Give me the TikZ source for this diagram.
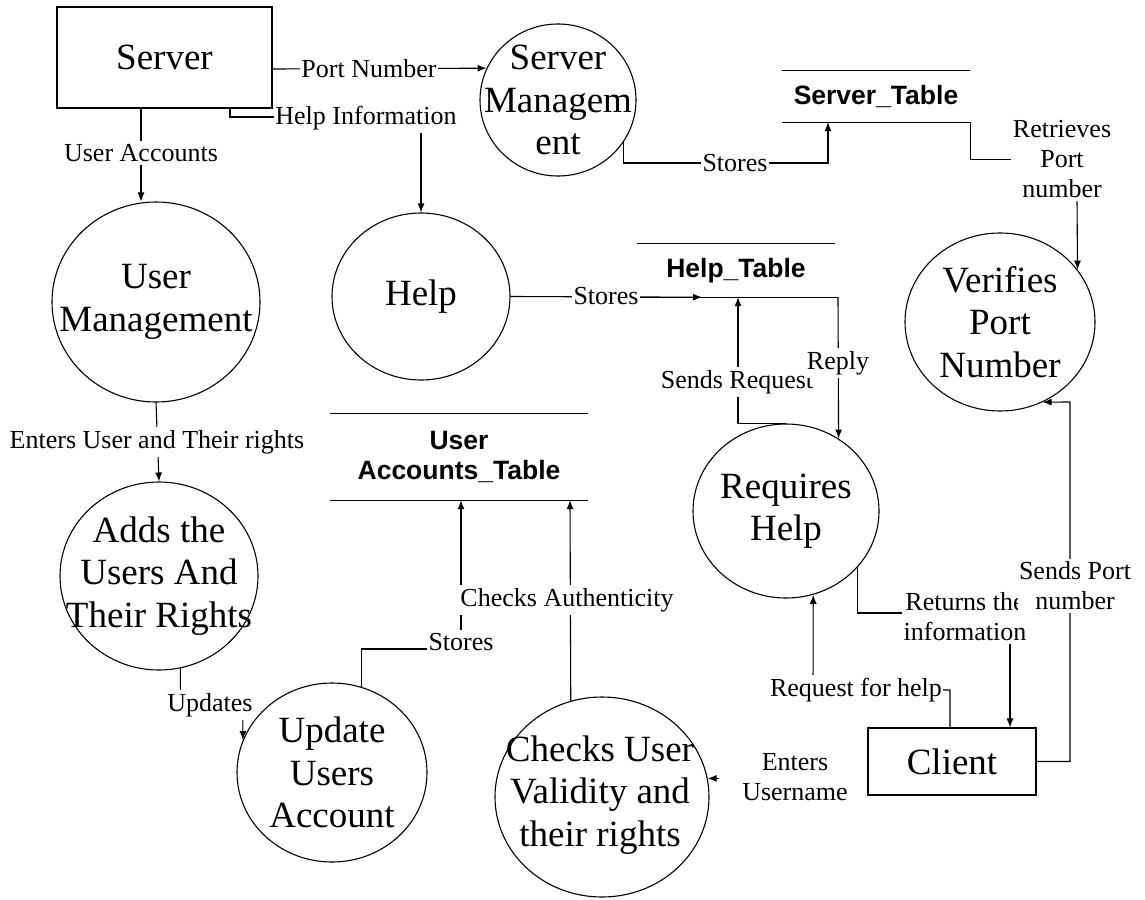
\documentclass[tikz,border=0pt]{standalone}
\usepackage{fontspec}
\setmainfont{Liberation Serif}
\newfontfamily\tblfont{Liberation Sans}
\usetikzlibrary{shapes.geometric,arrows.meta}
\tikzset{
  proc/.style={ellipse, draw, line width=1.1pt, inner sep=0pt},
  ptext/.style={align=center, font=\fontsize{37}{42.5}\selectfont, inner sep=0pt},
  ent/.style={rectangle, draw, line width=1.1pt, font=\fontsize{37}{42.5}\selectfont},
  lab/.style={fill=white, align=center, font=\fontsize{26}{30}\selectfont, inner xsep=1.5pt, inner ysep=3pt},
  tbl/.style={font=\tblfont\bfseries\fontsize{26.5}{30}\selectfont, align=center, inner sep=0pt},
  flow/.style={line width=1.1pt},
  arr/.style={flow, -{Latex[length=9pt,width=7pt]}},
}
\begin{document}
\begin{tikzpicture}[x=1pt,y=-1pt]
\useasboundingbox[fill=white] (0,0) rectangle (1145,899);

% external entities
\node[ent, minimum width=215pt, minimum height=101pt] (srv) at (164.5,57.5) {Server};
\node[ent, minimum width=168pt, minimum height=67pt] (cl) at (952,761.5) {Client};

% processes
\node[proc, minimum width=156pt, minimum height=152pt] (sm) at (558,100) {};
\node[ptext] at (sm) {Server\\Managem\\ent};
\node[proc, minimum width=208pt, minimum height=200pt] (um) at (156,302) {};
\node[ptext] at (um) {User\\Management};
\node[proc, minimum width=178pt, minimum height=167pt] (hlp) at (421,296.5) {};
\node[ptext] at (hlp) {Help};
\node[proc, minimum width=190pt, minimum height=178pt] (vp) at (1000,322) {};
\node[ptext] at (vp) {Verifies\\Port\\Number};
\node[proc, minimum width=198pt, minimum height=188pt] (ad) at (159,576) {};
\node[ptext] at (ad) {Adds the\\Users And\\Their Rights};
\node[proc, minimum width=186pt, minimum height=174pt] (rh) at (786,511) {};
\node[ptext] at (rh) {Requires\\Help};
\node[proc, minimum width=190pt, minimum height=179pt] (uu) at (332,772.5) {};
\node[ptext] at (uu) {Update\\Users\\Account};
\node[proc, minimum width=214pt, minimum height=200pt] (ck) at (602,797) {};
\node[ptext] at (600,795) {Checks User\\Validity and\\their rights};

% data stores
\node[tbl, minimum width=188pt, minimum height=51pt] (st) at (876,96.5) {Server\_Table};
\draw[flow] (st.north west) -- (st.north east);
\draw[flow] (st.south west) -- (st.south east);
\node[tbl, minimum width=198pt, minimum height=53pt] (ht) at (736,270.5) {Help\_Table};
\draw[flow] (ht.north west) -- (ht.north east);
\draw[flow] (ht.south west) -- ([xshift=3pt]ht.south east);
\node[tbl, minimum width=258pt, minimum height=86pt] (ut) at (459,457) {User\\Accounts\_Table};
\draw[flow] (ut.north west) -- (ut.north east);
\draw[flow] (ut.south west) -- (ut.south east);

% label that is a connector end
\node[lab] (lrp) at (1062,159.5) {Retrieves\\Port\\number};

% connectors
\draw[arr] ([yshift=-11.5pt]srv.east) -- (sm.156);
\draw[arr] ([xshift=65.5pt]srv.south) |- (421,117) -- (hlp.north);
\draw[arr] ([xshift=-23.5pt]srv.south) -- ([xshift=-15pt]um.north);
\draw[arr] (sm.-33) |- (828,163) -- ([xshift=-48pt]st.south);
\draw[flow] (st.south east) |- (lrp.west);
\draw[arr] ([xshift=15pt]lrp.south) -- (vp.34);
\draw[arr] (hlp.east) -- ([xshift=-34pt]ht.south);
\draw[arr] ([xshift=102pt]ht.south) -- (rh.54);
\draw[arr] (rh.north) -| ([xshift=2pt]ht.south);
\draw[arr] (um.south) -- (ad.north);
\draw[arr] (ad.-77) |- (243,705) -- (uu.160);
\draw[arr] (uu.71) |- (461,649) -- ([xshift=2pt]ut.south);
\draw[arr] (ck.108) -- ([xshift=111pt]ut.south);
\draw[arr] (rh.-38) |- (1010,613) -- ([xshift=58pt]cl.north);
\draw[arr] ([xshift=-2pt]cl.north) |- (813,690) -- (rh.-72);
\draw[arr] ([xshift=11pt]ck.10) -- (ck.10);
\draw[arr] (cl.east) -| (1070,402) -- (vp.-62);

% labels on connectors
\node[lab] at (369,69) {Port Number};
\node[lab] at (366,118) {Help Information};
\node[lab] at (141,153) {User Accounts};
\node[lab] at (735,163) {Stores};
\node[lab] at (606,296) {Stores};
\node[lab] at (737,382) {Sends Request};
\node[lab] at (838,363) {Reply};
\node[lab] at (157,442) {Enters User and Their rights};
\node[lab] at (210,705) {Updates};
\node[lab] at (461,642) {Stores};
\node[lab] at (567,600) {Checks Authenticity};
\node[lab] at (965,617) {Returns the\\information};
\node[lab] at (1075,586) {Sends Port\\number};
\node[lab] at (856,690) {Request for help};
\node[lab] at (795,777) {Enters\\Username};
\end{tikzpicture}
\end{document}
